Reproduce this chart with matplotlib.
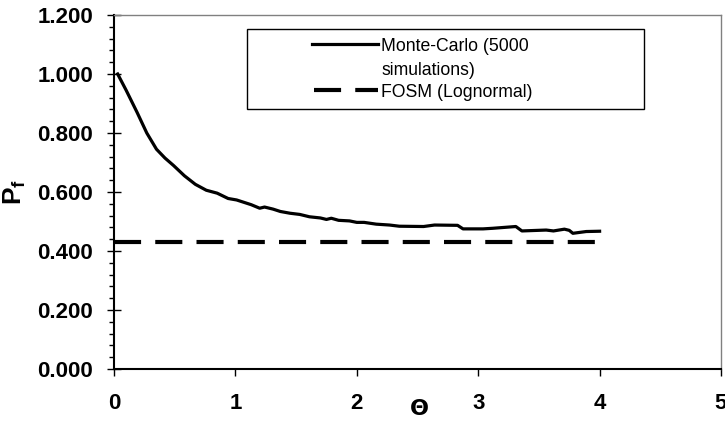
import numpy as np
import matplotlib.pyplot as plt
from matplotlib.patches import Rectangle
from matplotlib.lines import Line2D
from matplotlib.ticker import MultipleLocator

plt.rcParams['font.family'] = ['Liberation Sans', 'DejaVu Sans']
plt.rcParams['mathtext.fontset'] = 'custom'
plt.rcParams['mathtext.bf'] = 'Liberation Sans:bold'
plt.rcParams['mathtext.rm'] = 'Liberation Sans'

# Monte-Carlo (5000 simulations)
theta = [0.03, 0.10, 0.19, 0.27, 0.35, 0.42, 0.49, 0.58, 0.67, 0.76, 0.85, 0.94,
         1.01, 1.13, 1.20, 1.24, 1.31, 1.37, 1.45, 1.53, 1.61, 1.70, 1.75, 1.79,
         1.85, 1.94, 2.00, 2.06, 2.16, 2.27, 2.35, 2.55, 2.64, 2.83, 2.875, 3.04,
         3.12, 3.31, 3.36, 3.56, 3.62, 3.71, 3.75, 3.78, 3.89, 4.00]
pf_mc = [1.000, 0.945, 0.870, 0.800, 0.745, 0.715, 0.690, 0.655, 0.626, 0.606, 0.596, 0.578,
         0.573, 0.557, 0.545, 0.549, 0.542, 0.534, 0.528, 0.524, 0.516, 0.512, 0.507, 0.511,
         0.504, 0.502, 0.497, 0.497, 0.491, 0.488, 0.484, 0.483, 0.488, 0.487, 0.475, 0.475,
         0.477, 0.483, 0.468, 0.471, 0.468, 0.474, 0.470, 0.460, 0.466, 0.467]

# FOSM (Lognormal)
theta_fosm = [0.0, 4.0]
pf_fosm = [0.431, 0.431]

legend_labels = ['Monte-Carlo (5000', 'simulations)', 'FOSM (Lognormal)']

W, H = 725, 421
fig = plt.figure(figsize=(7.25, 4.21), dpi=100)
ax = fig.add_axes([114 / W, 1 - 369 / H, (721 - 114) / W, (369 - 15) / H])

ax.plot(theta, pf_mc, color='black', lw=2.3, solid_joinstyle='round')
dash, = ax.plot(theta_fosm, pf_fosm, color='black', lw=3)
dash.set_dashes([6.5, 3.4])

ax.set_xlim(0, 5)
ax.set_ylim(0, 1.2)
ax.xaxis.set_major_locator(MultipleLocator(1))
ax.yaxis.set_major_locator(MultipleLocator(0.2))
ax.yaxis.set_minor_locator(MultipleLocator(0.04))
ax.yaxis.set_major_formatter(plt.FormatStrFormatter('%.3f'))

ax.tick_params(axis='y', which='major', direction='inout', length=10.4, width=1,
               pad=9.9, labelsize=16)
ax.tick_params(axis='y', which='minor', direction='out', length=3.6, width=1)
ax.tick_params(axis='x', which='major', direction='out', length=5, width=1,
               pad=12, labelsize=16)
for lab in ax.get_xticklabels() + ax.get_yticklabels():
    lab.set_fontweight('bold')

ax.spines['left'].set_linewidth(1.5)
ax.spines['bottom'].set_linewidth(1.5)
ax.spines['top'].set_color('#808080')
ax.spines['right'].set_color('#808080')
ax.spines['top'].set_linewidth(1)
ax.spines['right'].set_linewidth(1)

ax.set_ylabel(r'$\mathbf{P_f}$', fontsize=19, va='center')
ax.yaxis.set_label_coords((15 - 114) / 607, 0.5)
ax.set_xlabel('Θ', fontsize=16, fontweight='bold', family='DejaVu Sans', va='center')
ax.xaxis.set_label_coords((419 - 114) / 607, (369 - 409) / 354)


# legend drawn by hand, Excel style
def fx(px):
    return px / W


def fy(py):
    return 1 - py / H


fig.patches.append(Rectangle((fx(247), fy(109)), fx(644) - fx(247), fy(29) - fy(109),
                             transform=fig.transFigure, fill=True, facecolor='white',
                             edgecolor='black', lw=1, zorder=5))
fig.lines.append(Line2D([fx(312), fx(378)], [fy(43.5), fy(43.5)], transform=fig.transFigure,
                        color='black', lw=2.3, zorder=6))
leg_dash = Line2D([fx(314), fx(378)], [fy(90), fy(90)], transform=fig.transFigure,
                  color='black', lw=3, zorder=6)
leg_dash.set_dashes([6.5, 3.4])
fig.lines.append(leg_dash)
for txt, yb in zip(legend_labels, [51, 75, 97]):
    fig.text(fx(381), fy(yb), txt, fontsize=12.7, va='baseline', ha='left', zorder=7)

plt.savefig('out.png', dpi=100)
